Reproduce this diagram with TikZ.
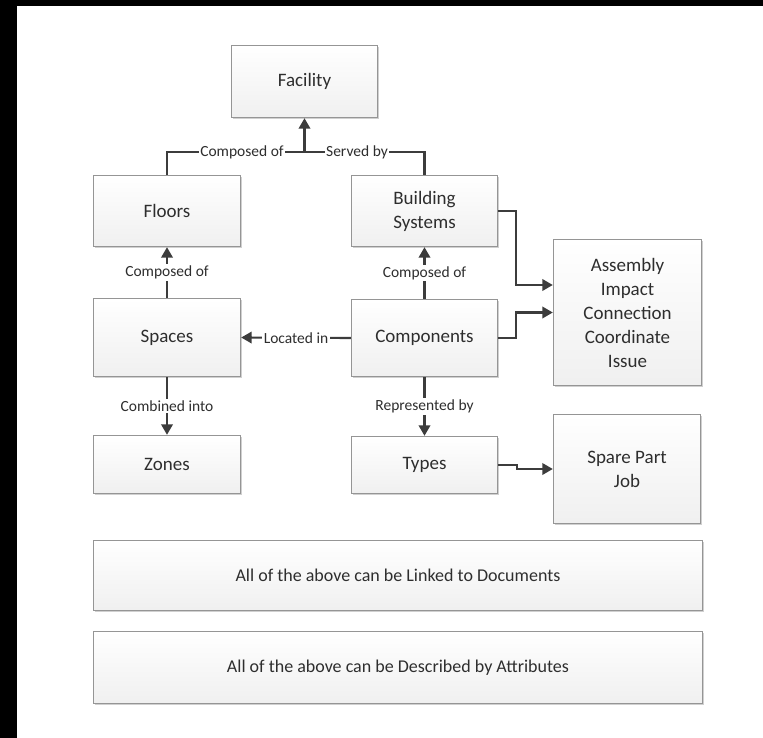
\documentclass[tikz,border=0pt]{standalone}
\usepackage{fontspec}
\setmainfont{Carlito}
\usetikzlibrary{arrows.meta,shadows}
\definecolor{linecol}{HTML}{3C3C3C}
\definecolor{boxline}{HTML}{959595}
\definecolor{txtcol}{HTML}{2E2E2E}
\tikzset{
  box/.style={draw=boxline, line width=1.4pt, top color=white, bottom color=black!6,
    align=center, inner sep=2pt, text=txtcol, font=\fontsize{19}{24}\selectfont,
    drop shadow={shadow xshift=1.2pt, shadow yshift=-1.2pt, fill=black!30, opacity=0.6}},
  conn/.style={draw=linecol, line width=2.1pt},
  arr/.style={conn, -{Triangle[length=10.5pt,width=11.5pt]}},
  lbl/.style={fill=white, inner sep=1.5pt, text=txtcol, font=\fontsize{15.5}{18}\selectfont}
}
\begin{document}
\begin{tikzpicture}[x=1pt,y=-1pt]
\useasboundingbox (0,0) rectangle (763,738);
\fill[white] (0,0) rectangle (763,738);
\fill[black] (0,0) rectangle (17,738);
\fill[black] (0,0) rectangle (763,6);

\node[box, minimum width=146pt, minimum height=72pt] (facility) at (304.5,81.5) {Facility};
\node[box, minimum width=147pt, minimum height=71pt] (floors) at (167,211) {Floors};
\node[box, minimum width=146pt, minimum height=71pt] (bs) at (424.5,211) {Building\\Systems};
\node[box, minimum width=147pt, minimum height=78pt] (spaces) at (167,337.5) {Spaces};
\node[box, minimum width=146pt, minimum height=77pt] (comp) at (424.5,338) {Components};
\node[box, minimum width=147pt, minimum height=58pt] (zones) at (167,464.5) {Zones};
\node[box, minimum width=146pt, minimum height=57pt] (types) at (424.5,465) {Types};
\node[box, minimum width=148pt, minimum height=146pt] (assembly) at (627.5,312.5) {Assembly\\Impact\\Connection\\Coordinate\\Issue};
\node[box, minimum width=147pt, minimum height=109pt] (spare) at (627,469) {Spare Part\\Job};
\node[box, minimum width=609pt, minimum height=70pt, font=\fontsize{18}{22}\selectfont] (linked) at (398,575.5) {All of the above can be Linked to Documents};
\node[box, minimum width=609pt, minimum height=72pt, font=\fontsize{18}{22}\selectfont] (described) at (398,667.5) {All of the above can be Described by Attributes};

% top junction
\coordinate (j) at (304.5,152);
\draw[conn] (floors.north) |- (j) -| (bs.north);
\draw[arr] (j) -- (facility.south);
\node[lbl] (lco) at (242,152) {Composed of};
\node[lbl] (lsb) at (357,152) {Served by};

% vertical links
\draw[arr] (spaces.north) -- node[lbl] (l1) {Composed of} (floors.south);
\draw[arr] (comp.north) -- node[lbl] (l2) {Composed of} (bs.south);
\draw[arr] (comp.west) -- node[lbl] (l3) {Located in} (spaces.east);
\draw[arr] (spaces.south) -- node[lbl] (l4) {Combined into} (zones.north);
\draw[arr] (comp.south) -- node[lbl] (l5) {Represented by} (types.north);

% links to right boxes
\draw[arr] (bs.east) -- ++(18,0) |- ([yshift=27.5pt]assembly.west);
\draw[arr] (comp.east) -- ++(18,0) |- (assembly.west);
\draw[arr] (types.east) -- ++(19,0) |- (spare.west);
\end{tikzpicture}
\end{document}
